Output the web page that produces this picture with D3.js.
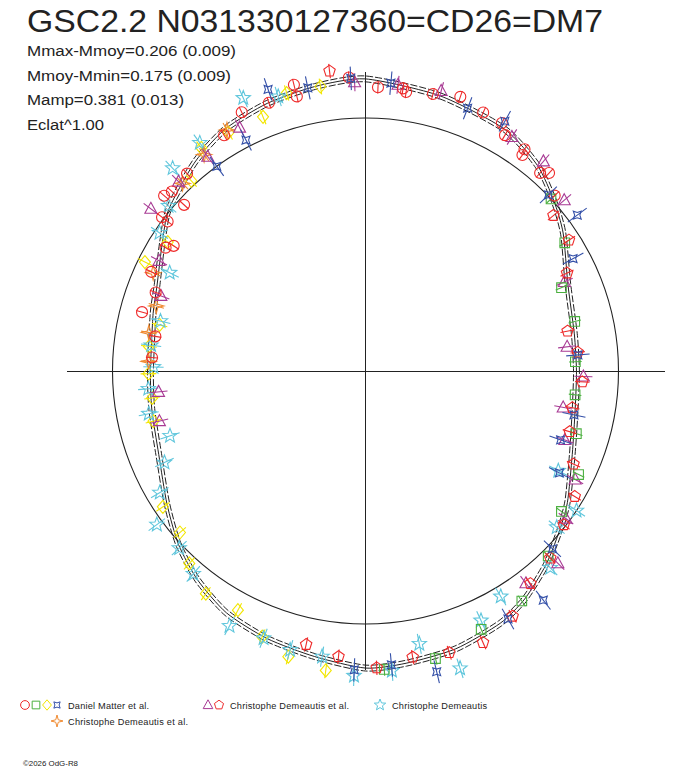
<!DOCTYPE html>
<html>
<head>
<meta charset="utf-8">
<script src="https://cdn.jsdelivr.net/npm/d3@7"></script>
<style>
  body { margin: 0; background: #fff; }
  text { font-family: "Liberation Sans", Arial, sans-serif; fill: #222; }
</style>
</head>
<body>
<svg id="chart" width="688" height="768"></svg>
<script>
// mean light curve (phase 0..1 clockwise from top, dm = magnitude offset from mean, positive = outward)
var curvePhase = [0, .042, .083, .111, .133, .153, .186, .222, .250, .278, .311, .342, .361, .381, .403, .422, .450, .478, .500,
                  .528, .556, .583, .608, .631, .656, .689, .722, .750, .792, .811, .839, .858, .878, .894, .917, .944, .972];
var curveMag   = [.173, .142, .115, .066, .004, -.053, -.146, -.181, -.186, -.177, -.133, -.053, -.004, .053, .111, .146, .173, .186, .195,
                  .164, .142, .115, .066, .009, -.062, -.133, -.159, -.168, -.146, -.124, -.058, .004, .044, .080, .119, .142, .159];
var curveErr = 0.013;

// Daniel Matter et al.
var circlePhase = [.007, .021, .023, .038, .053, .068, .080, .085, .099, .100, .115, .119, .131, .991, .961, .961, .945, .929,
                   .914, .883, .864, .869, .868, .853, .853, .838, .842, .819, .807, .791, .776, .760];
var circleMag   = [.137, .142, .128, .142, .164, .137, .133, .093, .088, .062, .049, .075, .022, .181, .186, .133, .142, .150,
                   .097, .058, .062, .049, -.031, .009, -.022, -.080, -.106, -.075, -.128, -.097, -.177, -.173];
var squarePhase = [.131, .159, .186, .213, .243, .268, .296, .322, .349, .376, .405, .433, .462, .490];
var squareMag   = [.000, -.071, -.177, -.168, -.190, -.186, -.146, -.071, -.053, .031, .111, .133, .190, .204];
var diamondPhase = [.748, .730, .713, .656, .636, .618, .599, .578, .559, .542, .521, .975, .956, .939, .917, .899, .882, .842, .823, .785, .768];
var diamondMag   = [-.159, -.168, -.155, -.040, -.031, .035, .093, .080, .142, .190, .217, .155, .159, .093, .097, .106, .022, -.075, -.031, -.186, -.155];
var cross4Phase = [.014, .059, .081, .128, .149, .171, .238, .283, .304, .327, .371, .395, .417, .463, .486, .506, .992, .968, .947, .924, .900];
var cross4Mag   = [.159, .128, .146, .004, .044, -.075, -.177, -.177, -.204, -.150, .022, .164, .146, .248, .186, .204, .177, .159, .199, .031, .000];

// Christophe Demeautis et al.
var trianglePhase = [.018, .042, .089, .112, .137, .183, .231, .254, .279, .303, .326, .351, .375, .397, .994, .924, .899, .876, .853, .828, .806, .734, .712];
var triangleMag   = [.155, .164, .102, .097, .040, -.155, -.221, -.155, -.230, -.186, -.075, -.018, .084, .058, .159, .093, .058, .058, .071, -.084, -.155, -.199, -.181];
var pentagonPhase = [.140, .159, .178, .219, .236, .258, .278, .296, .317, .336, .355, .376, .395, .414, .435, .454, .474, .494, .515, .534, .981];
var pentagonMag   = [-.040, -.049, -.128, -.208, -.177, -.159, -.190, -.177, -.111, -.040, -.009, .044, .071, .146, .190, .181, .164, .195, .150, .119, .217];

// Christophe Demeautis
var starPhase = [.326, .343, .359, .380, .414, .431, .451, .469, .486, .506, .524, .542, .558, .578, .612, .629, .649, .665, .682, .699,
                 .719, .737, .753, .769, .788, .824, .844, .861, .879, .900, .933, .951];
var starMag   = [-.159, .000, -.027, .075, .044, .097, .261, .111, .212, .230, .159, .159, .146, .159, .058, .018, .027, -.062, -.142, -.208,
                 -.142, -.155, -.181, -.164, -.186, -.150, -.022, .018, .119, .128, .204, .155];

// Christophe Demeautis et al. (second set)
var sparklePhase = [.917, .898, .877, .819, .798, .778, .757];
var sparkleMag   = [.111, .075, .040, -.084, -.150, -.146, -.159];

var statLines = ['Mmax-Mmoy=0.206 (0.009)', 'Mmoy-Mmin=0.175 (0.009)', 'Mamp=0.381 (0.013)', 'Eclat^1.00'];
var statWidths = [209, 204, 157, 77];

var svg = d3.select('#chart');
var cx = 365.5, cy = 371, axisHalf = 299;

// radius grows 226 px per magnitude, mean magnitude on the circle
var rScale = d3.scaleLinear().domain([0, 0.2]).range([253, 298.2]);

function starPath(n, outer, inner, rot) {
    var pts = [];
    for (var i = 0; i < 2 * n; i++) {
        var a = rot + i * Math.PI / n;
        var r = i % 2 ? inner : outer;
        pts.push([r * Math.sin(a), -r * Math.cos(a)]);
    }
    return 'M' + pts.map(function(p){ return p[0].toFixed(2) + ',' + p[1].toFixed(2); }).join('L') + 'Z';
}
var shapes = {
    circle: function(k) { var r = 5.5 * k; return 'M' + r + ',0A' + r + ',' + r + ' 0 1 1 ' + (-r) + ',0A' + r + ',' + r + ' 0 1 1 ' + r + ',0Z'; },
    square: function(k) { var s = 4.8 * k; return 'M' + (-s) + ',' + (-s) + 'H' + s + 'V' + s + 'H' + (-s) + 'Z'; },
    diamond: function(k) { return 'M0,' + (-6.5 * k) + 'L' + (5.5 * k) + ',0L0,' + (6.5 * k) + 'L' + (-5.5 * k) + ',0Z'; },
    cross4: function(k) { return starPath(4, 5.6 * k, 2.6 * k, Math.PI / 4); },
    triangle: function(k) { return 'M0,' + (-6.5 * k) + 'L' + (6 * k) + ',' + (4.5 * k) + 'L' + (-6 * k) + ',' + (4.5 * k) + 'Z'; },
    pentagon: function(k) { return starPath(5, 6 * k, 6 * k * Math.cos(Math.PI / 5), 0); },
    star: function(k) { return starPath(5, 7.5 * k, 3.2 * k, 0); },
    sparkle: function(k) { return starPath(4, 7.5 * k, 2.2 * k, 0); }
};

var series = [
    {shape: 'diamond',  color: '#f2e600', err: .035, phase: diamondPhase,  mag: diamondMag},
    {shape: 'star',     color: '#5fc6dc', err: .045, phase: starPhase,     mag: starMag},
    {shape: 'sparkle',  color: '#f08a30', err: .035, phase: sparklePhase,  mag: sparkleMag},
    {shape: 'triangle', color: '#a83a94', err: .040, phase: trianglePhase, mag: triangleMag},
    {shape: 'square',   color: '#4cb040', err: .028, phase: squarePhase,   mag: squareMag},
    {shape: 'pentagon', color: '#ee2a2a', err: .032, phase: pentagonPhase, mag: pentagonMag},
    {shape: 'circle',   color: '#ee2a2a', err: .027, phase: circlePhase,   mag: circleMag},
    {shape: 'cross4',   color: '#3450a8', err: .052, phase: cross4Phase,   mag: cross4Mag}
];

var plot = svg.append('g').attr('transform', 'translate(' + cx + ',' + cy + ')');

// axes cross
plot.append('line').attr('x1', -axisHalf).attr('x2', axisHalf).attr('y1', 0).attr('y2', 0)
    .attr('stroke', '#222').attr('shape-rendering', 'crispEdges');
plot.append('line').attr('y1', -axisHalf).attr('y2', axisHalf).attr('x1', 0).attr('x2', 0)
    .attr('stroke', '#222').attr('shape-rendering', 'crispEdges');

// mean magnitude circle
plot.append('circle').attr('r', rScale(0)).attr('fill', 'none').attr('stroke', '#222').attr('stroke-width', 1.1);

// mean curve with its error band
var curveData = curvePhase.map(function(p, i){ return {p: p, m: curveMag[i]}; });
[-curveErr, 0, curveErr].forEach(function(off) {
    var line = d3.lineRadial()
        .angle(function(d){ return d.p * 2 * Math.PI; })
        .radius(function(d){ return rScale(d.m + off); })
        .curve(d3.curveCardinalClosed.tension(0.3));
    plot.append('path').datum(curveData)
        .attr('d', line)
        .attr('fill', 'none')
        .attr('stroke', '#222')
        .attr('stroke-width', 1)
        .attr('stroke-dasharray', off === 0 ? null : '7,2');
});

function polar(p, m) {
    var a = p * 2 * Math.PI, r = rScale(m);
    return [r * Math.sin(a), -r * Math.cos(a)];
}

series.forEach(function(s) {
    var pts = s.phase.map(function(p, i){ return {p: p, m: s.mag[i]}; });
    var g = plot.append('g');
    g.selectAll('line').data(pts).enter().append('line')
        .attr('x1', function(d){ return polar(d.p, d.m - s.err)[0]; })
        .attr('y1', function(d){ return polar(d.p, d.m - s.err)[1]; })
        .attr('x2', function(d){ return polar(d.p, d.m + s.err)[0]; })
        .attr('y2', function(d){ return polar(d.p, d.m + s.err)[1]; })
        .attr('stroke', s.color).attr('stroke-width', 1.1);
    g.selectAll('path').data(pts).enter().append('path')
        .attr('d', shapes[s.shape](1))
        .attr('transform', function(d){ var xy = polar(d.p, d.m); return 'translate(' + xy[0] + ',' + xy[1] + ')'; })
        .attr('fill', 'none').attr('stroke', s.color).attr('stroke-width', 1.1);
});

// title and statistics
svg.append('text').attr('x', 27).attr('y', 32)
    .attr('font-size', 31).attr('textLength', 576).attr('lengthAdjust', 'spacingAndGlyphs')
    .text('GSC2.2 N031330127360=CD26=DM7');
statLines.forEach(function(t, i) {
    svg.append('text').attr('x', 27).attr('y', 56 + i * 24.7)
        .attr('font-size', 15.5).attr('textLength', statWidths[i]).attr('lengthAdjust', 'spacingAndGlyphs')
        .text(t);
});

// legend
var legend = [
    {y: 705, marks: [['circle', '#ee2a2a', 25], ['square', '#4cb040', 36], ['diamond', '#f2e600', 47], ['cross4', '#3450a8', 57]],
     x: 68, w: 81, label: 'Daniel Matter et al.'},
    {y: 705, marks: [['triangle', '#a83a94', 208], ['pentagon', '#ee2a2a', 219]], x: 230, w: 119, label: 'Christophe Demeautis et al.'},
    {y: 705, marks: [['star', '#5fc6dc', 380]], x: 392, w: 95, label: 'Christophe Demeautis'},
    {y: 721, marks: [['sparkle', '#f08a30', 57]], x: 68, w: 120, label: 'Christophe Demeautis et al.'}
];
legend.forEach(function(l) {
    l.marks.forEach(function(m) {
        svg.append('path').attr('d', shapes[m[0]](0.8))
            .attr('transform', 'translate(' + m[2] + ',' + l.y + ')')
            .attr('fill', 'none').attr('stroke', m[1]).attr('stroke-width', 1);
    });
    svg.append('text').attr('x', l.x).attr('y', l.y + 4)
        .attr('font-size', 9.2).attr('textLength', l.w).attr('lengthAdjust', 'spacing')
        .text(l.label);
});

svg.append('text').attr('x', 23).attr('y', 766)
    .attr('font-size', 8).attr('textLength', 55).attr('lengthAdjust', 'spacingAndGlyphs')
    .text('\u00a92026 OdG-R8');
</script>
</body>
</html>
